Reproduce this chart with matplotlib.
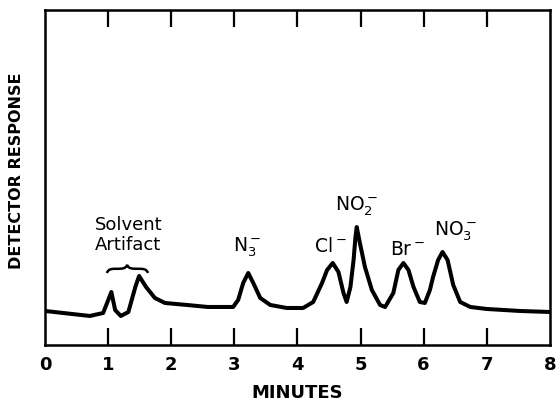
import matplotlib
matplotlib.use('Agg')
import matplotlib.pyplot as plt
from matplotlib.path import Path
from matplotlib.patches import PathPatch

plt.rcParams['font.family'] = ['DejaVu Sans']

# chromatogram (minutes, detector response in arbitrary units)
minutes = [0.00, 0.71, 0.92, 1.05, 1.11, 1.20, 1.32, 1.43, 1.49, 1.60, 1.74, 1.90,
           2.25, 2.58, 2.98, 3.06, 3.14, 3.22, 3.30, 3.41, 3.57, 3.83, 4.09, 4.25,
           4.39, 4.47, 4.56, 4.65, 4.73, 4.78, 4.84, 4.89, 4.92, 4.94, 4.99, 5.07,
           5.18, 5.31, 5.39, 5.52, 5.60, 5.68, 5.76, 5.84, 5.94, 6.02, 6.10, 6.15,
           6.23, 6.30, 6.38, 6.47, 6.58, 6.74, 7.00, 7.53, 8.00]
response = [34, 29, 32, 53, 35, 29, 33, 58, 69, 58, 47, 42,
            40, 38, 38, 45, 62, 72, 62, 47, 40, 37, 37, 43,
            62, 75, 82, 73, 52, 43, 58, 85, 108, 118, 102, 78,
            55, 40, 38, 52, 75, 82, 75, 58, 43, 42, 55, 68,
            85, 93, 85, 60, 43, 38, 36, 34, 33]

# peak labels: text, x, baseline y
peak_labels = [r'$\mathregular{N_3^-}$', r'$\mathregular{Cl^-}$', r'$\mathregular{NO_2^-}$',
               r'$\mathregular{Br^-}$', r'$\mathregular{NO_3^-}$']
peak_x = [3.2, 4.52, 4.93, 5.74, 6.51]
peak_y = [93, 93, 135, 90, 110]

fig = plt.figure(figsize=(5.57, 4.03), dpi=100)
ax = fig.add_axes([0.081, 0.144, 0.906, 0.831])

ax.plot(minutes, response, color='black', lw=2.9, solid_joinstyle='round', solid_capstyle='round')

ax.set_xlim(0, 8)
ax.set_ylim(0, 335)
ax.set_xticks(range(9))
ax.set_yticks([])
ax.tick_params(axis='x', which='both', direction='in', length=12, width=1.6,
               top=True, labelsize=13, pad=8)
for lbl in ax.get_xticklabels():
    lbl.set_fontweight('bold')
for s in ax.spines.values():
    s.set_linewidth(1.8)

# no ticks at the ends (0 and 8)
for t in ax.xaxis.get_major_ticks()[::8]:
    t.tick1line.set_visible(False)
    t.tick2line.set_visible(False)

ax.set_xlabel('MINUTES', fontsize=13, fontweight='bold', labelpad=7)
ax.set_ylabel('DETECTOR RESPONSE', fontsize=11.5, fontweight='bold')
ax.yaxis.set_label_coords(-0.042, 0.52)

ax.text(1.32, 110, 'Solvent\nArtifact', ha='center', va='center', fontsize=13, linespacing=1.2)

# curly brace over the solvent peaks
bx0, bx1, by, bh = 0.98, 1.63, 72, 6
bm = 1.30
verts = [(bx0, by), (bx0 + 0.02, by + 0.7 * bh), (bx0 + 0.08, by + 0.7 * bh), (bx0 + 0.15, by + 0.7 * bh),
         (bm - 0.08, by + 0.7 * bh), (bm - 0.02, by + 0.7 * bh), (bm, by + 1.35 * bh),
         (bm + 0.02, by + 0.7 * bh), (bm + 0.08, by + 0.7 * bh), (bx1 - 0.15, by + 0.7 * bh),
         (bx1 - 0.08, by + 0.7 * bh), (bx1 - 0.02, by + 0.7 * bh), (bx1, by)]
codes = [Path.MOVETO] + [Path.CURVE4] * 12
ax.add_patch(PathPatch(Path(verts, codes), fill=False, lw=1.8, color='black'))

for txt, x, y in zip(peak_labels, peak_x, peak_y):
    ax.text(x, y, txt, ha='center', va='baseline', fontsize=13.5)

fig.savefig('out.png', dpi=100)
